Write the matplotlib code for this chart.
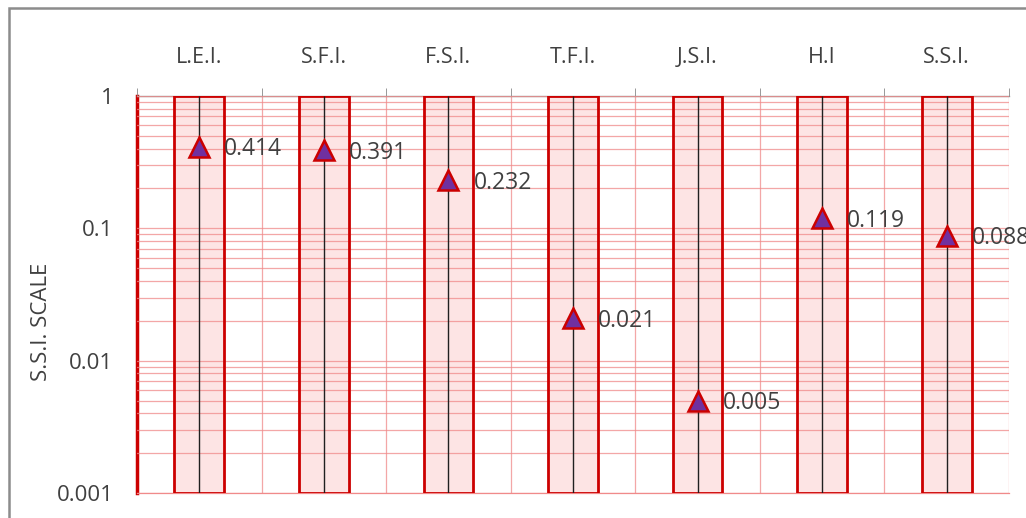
import matplotlib
matplotlib.use("Agg")
import matplotlib.pyplot as plt
from matplotlib.patches import Rectangle
from matplotlib.ticker import FixedLocator, NullFormatter

plt.rcParams['font.family'] = ['Open Sans', 'DejaVu Sans']

# data
categories = ['L.E.I.', 'S.F.I.', 'F.S.I.', 'T.F.I.', 'J.S.I.', 'H.I', 'S.S.I.']
values = [0.414, 0.391, 0.232, 0.021, 0.005, 0.119, 0.088]
value_labels = ['0.414', '0.391', '0.232', '0.021', '0.005', '0.119', '0.088']
y_ticks = [0.001, 0.01, 0.1, 1]
y_tick_labels = ['0.001', '0.01', '0.1', '1']
y_min, y_max = 0.001, 1

text_col = '#404040'
grid_col = '#F08A8A'
bar_edge = '#CC0000'
bar_fill = '#FDE4E4'

fig = plt.figure(figsize=(10.26, 5.18), dpi=100)
ax = fig.add_axes([137 / 1026, 25 / 518, 872 / 1026, 397 / 518])

x = list(range(len(categories)))

ax.set_yscale('log')
ax.set_ylim(y_min, y_max)
ax.set_xlim(-0.5, len(categories) - 0.5)

# pink columns (fill below grid, outline above)
ax.bar(x, [y_max - y_min] * len(x), bottom=y_min, width=0.4,
       color=bar_fill, zorder=1)
ax.bar(x, [y_max - y_min] * len(x), bottom=y_min, width=0.4,
       fill=False, edgecolor=bar_edge, linewidth=2, zorder=3)
ax.vlines(x, y_min, y_max, color='#202020', linewidth=1, zorder=3)

# grid
ax.yaxis.set_major_locator(FixedLocator(y_ticks))
ax.set_yticklabels(y_tick_labels)
minor = [m * 10.0 ** e for e in (-3, -2, -1) for m in range(2, 10)]
ax.yaxis.set_minor_locator(FixedLocator(minor))
ax.yaxis.set_minor_formatter(NullFormatter())
ax.grid(True, which='both', axis='y', color=grid_col, linewidth=0.9, alpha=0.75)
ax.set_axisbelow(False)
for gl in ax.get_ygridlines() + ax.yaxis.get_minorticklines():
    gl.set_zorder(2)

bounds = [i + 0.5 for i in range(-1, len(categories))]
for b in bounds[1:]:
    ax.axvline(b, color=grid_col, linewidth=0.9, alpha=0.75, zorder=2)

# markers and labels
ax.plot(x, values, linestyle='none', marker='^', markersize=14,
        markerfacecolor='#7030A0', markeredgecolor=bar_edge,
        markeredgewidth=1.8, zorder=4, clip_on=False)
for xi, v, lab in zip(x, values, value_labels):
    ax.annotate(lab, (xi, v), xytext=(18, -2), textcoords='offset points',
                ha='left', va='center', fontsize=16.5, color=text_col,
                annotation_clip=False)

# axes styling
ax.xaxis.tick_top()
ax.set_xticks(x)
ax.set_xticklabels(categories, fontsize=15.5, color=text_col)
ax.tick_params(axis='x', which='major', length=0, pad=20)
ax.set_xticks(bounds, minor=True)
ax.tick_params(axis='x', which='minor', length=6, color='#888888', direction='out')
ax.tick_params(axis='y', which='both', length=0, pad=17, labelsize=16,
               labelcolor=text_col)
ax.set_ylabel('S.S.I. SCALE', fontsize=16, color=text_col)
ax.yaxis.set_label_coords(-0.098, 0.43)

ax.spines['left'].set_color(bar_edge)
ax.spines['left'].set_linewidth(2.5)
ax.spines['top'].set_color('#999999')
ax.spines['top'].set_linewidth(1)
ax.spines['right'].set_visible(False)
ax.spines['bottom'].set_color(grid_col)
ax.spines['bottom'].set_linewidth(0.9)

# outer chart border
fig.patches.append(Rectangle((9 / 1026, -0.1), 1.2, 1 - 8 / 518 + 0.1,
                             transform=fig.transFigure, fill=False,
                             edgecolor='#8C8C8C', linewidth=1.8))

fig.savefig('out.png', dpi=100)
